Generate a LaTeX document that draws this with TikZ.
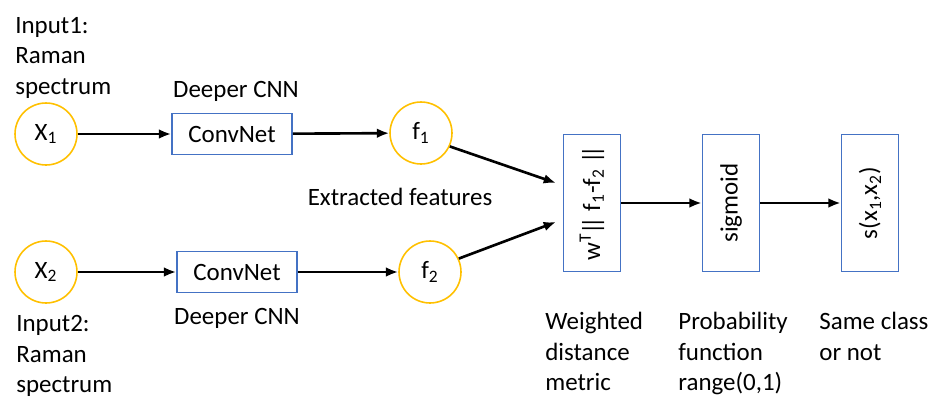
\documentclass[tikz,border=0pt]{standalone}
\usepackage{fontspec}
\usepackage{graphicx}
\setmainfont{Carlito}
\usetikzlibrary{arrows.meta}
\definecolor{gold}{HTML}{FFC000}
\definecolor{boxblue}{HTML}{4472C4}
\newcommand{\dbar}{|\kern-0.22em|}
\begin{document}
\begin{tikzpicture}[x=0.02cm,y=-0.02cm,
  every node/.style={font=\fontsize{14.2}{17.4}\selectfont},
  inode/.style={circle,draw=gold,line width=0.9pt,minimum size=1.24cm,inner sep=0pt},
  hbox/.style={draw=boxblue,line width=0.9pt,minimum width=2.4cm,minimum height=0.82cm,inner sep=0pt},
  vbox/.style={draw=boxblue,line width=0.9pt,minimum width=1.14cm,minimum height=2.74cm,inner sep=0pt},
  lbl/.style={align=left,anchor=north west,inner sep=0pt},
  conn/.style={line width=1.5pt,-{Latex[length=7pt,width=5.5pt]}}]
\useasboundingbox (0,0) rectangle (936,396);
% nodes
\node[inode] (x1) at (46,134) {X\textsubscript{1}};
\node[hbox] (c1) at (232,134) {ConvNet};
\node[inode] (f1) at (421,133) {f\textsubscript{1}};
\node[inode] (x2) at (46,272) {X\textsubscript{2}};
\node[hbox] (c2) at (237,272) {ConvNet};
\node[inode] (f2) at (430,272) {f\textsubscript{2}};
\node[vbox] (w) at (592,203) {\rotatebox{90}{w\textsuperscript{T}\kern-0.05em\dbar{} f\textsubscript{1}-f\textsubscript{2} \dbar}};
\node[vbox] (sg) at (731,203) {\rotatebox{90}{sigmoid}};
\node[vbox] (s) at (870,203) {\rotatebox{90}{s(x\textsubscript{1},x\textsubscript{2})}};
% labels
\node[lbl] (in1) at (15,17) {Input1:\\Raman\\spectrum};
\node[lbl] (in2) at (16,315) {Input2:\\Raman\\spectrum};
\node[anchor=base,inner sep=0pt] (d1) at (236,97) {Deeper CNN};
\node[anchor=base,inner sep=0pt] (d2) at (237,324) {Deeper CNN};
\node[anchor=base,inner sep=0pt] (ef) at (400,205) {Extracted features};
\node[lbl] (l1) at (545,312) {Weighted\\distance\\metric};
\node[lbl] (l2) at (678,312) {Probability\\function\\range(0,1)};
\node[lbl] (l3) at (819,312) {Same class\\or not};
% connectors
\coordinate (win1) at (556,183);
\coordinate (win2) at (556,222);
\draw[conn] (x1) -- (c1);
\draw[conn] (c1) -- (f1);
\draw[conn] (x2) -- (c2);
\draw[conn] (c2) -- (f2);
\draw[conn] (f1.-25) -- (win1);
\draw[conn] (f2.25) -- (win2);
\draw[conn] (w) -- (sg);
\draw[conn] (sg) -- (s);
\end{tikzpicture}
\end{document}
